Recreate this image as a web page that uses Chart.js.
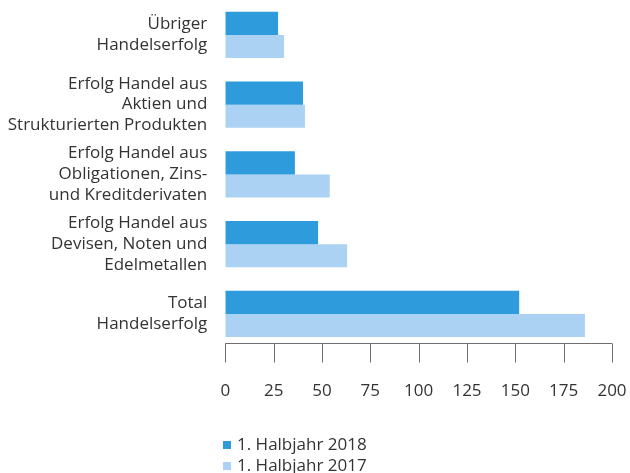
<!DOCTYPE html>
<html>
<head>
<meta charset="utf-8">
<script src="https://cdn.jsdelivr.net/npm/chart.js@4"></script>
<style>
  html, body { margin: 0; padding: 0; background: #fff; }
  #wrap { position: relative; width: 630px; height: 473px; }
  #legend { position: absolute; left: 223px; top: 434px; font: 17px "Open Sans", sans-serif; color: #333; }
  #legend div { height: 20.5px; line-height: 20.5px; white-space: nowrap; }
  #legend span.box { display: inline-block; width: 8px; height: 8px; margin-right: 6px; vertical-align: 1px; }
</style>
</head>
<body>
<div id="wrap">
  <canvas id="c" width="630" height="473"></canvas>
  <div id="legend"></div>
</div>
<script>
// categories, top to bottom; multi-line labels as drawn
const categories = [
    ['Übriger', 'Handelserfolg'],
    ['Erfolg Handel aus', 'Aktien und', 'Strukturierten Produkten'],
    ['Erfolg Handel aus', 'Obligationen, Zins-', 'und Kreditderivaten'],
    ['Erfolg Handel aus', 'Devisen, Noten und', 'Edelmetallen'],
    ['Total', 'Handelserfolg']
];
const seriesNames = ['1. Halbjahr 2018', '1. Halbjahr 2017'];
const values2018 = [27.3, 40.2, 36, 48, 152];
const values2017 = [30.4, 41.2, 54, 63, 186];
const xTicks = [0, 25, 50, 75, 100, 125, 150, 175, 200];

const COLORS = ['#2e9cdc', '#abd2f2'];
const TEXT = '#333333';
const FONT = '"Open Sans", sans-serif';

// axis line + tick marks sit a little above the bottom of the category band
const axisPlugin = {
    id: 'axisLine',
    afterDraw(chart) {
        const ctx = chart.ctx;
        const x = chart.scales.x;
        const y = Math.round(chart.chartArea.bottom - 5.4) + 0.5;
        ctx.save();
        ctx.strokeStyle = '#6e6e6e';
        ctx.lineWidth = 1;
        ctx.beginPath();
        ctx.moveTo(x.getPixelForValue(xTicks[0]), y);
        ctx.lineTo(x.getPixelForValue(xTicks[xTicks.length - 1]), y);
        xTicks.forEach(v => {
            const px = Math.round(x.getPixelForValue(v)) + 0.5;
            ctx.moveTo(px, y);
            ctx.lineTo(px, y + 19);
        });
        ctx.stroke();
        ctx.restore();
    }
};

const chart = new Chart(document.getElementById('c'), {
    type: 'bar',
    data: {
        labels: categories,
        datasets: [
            { label: seriesNames[0], data: values2018, backgroundColor: COLORS[0] },
            { label: seriesNames[1], data: values2017, backgroundColor: COLORS[1] }
        ]
    },
    options: {
        indexAxis: 'y',
        responsive: false,
        animation: false,
        events: [],
        layout: { padding: { top: 0, right: 18, bottom: 0, left: 0 } },
        datasets: { bar: { categoryPercentage: 0.66, barPercentage: 1.0, borderWidth: 0 } },
        plugins: { legend: { display: false }, tooltip: { enabled: false } },
        scales: {
            x: {
                min: 0,
                max: 200,
                afterBuildTicks: s => { s.ticks = xTicks.map(v => ({ value: v })); },
                afterFit: s => {
                    s.height = 124.25;
                    s.paddingLeft = 0;
                    s.paddingRight = 0;
                },
                grid: { display: false, drawTicks: false },
                border: { display: false },
                ticks: { color: TEXT, font: { family: FONT, size: 17 }, padding: 32, maxRotation: 0, autoSkip: false }
            },
            y: {
                afterFit: s => {
                    s.width = 225.3;
                    s.paddingTop = 0;
                    s.paddingBottom = 0;
                },
                grid: { display: false, drawTicks: false },
                border: { display: false },
                ticks: { color: TEXT, font: { family: FONT, size: 17, lineHeight: 1.22 }, padding: 18, autoSkip: false }
            }
        }
    },
    plugins: [axisPlugin]
});

document.getElementById('legend').innerHTML = chart.data.datasets.map(ds =>
    `<div><span class="box" style="background:${ds.backgroundColor}"></span>${ds.label}</div>`).join('');
</script>
</body>
</html>
